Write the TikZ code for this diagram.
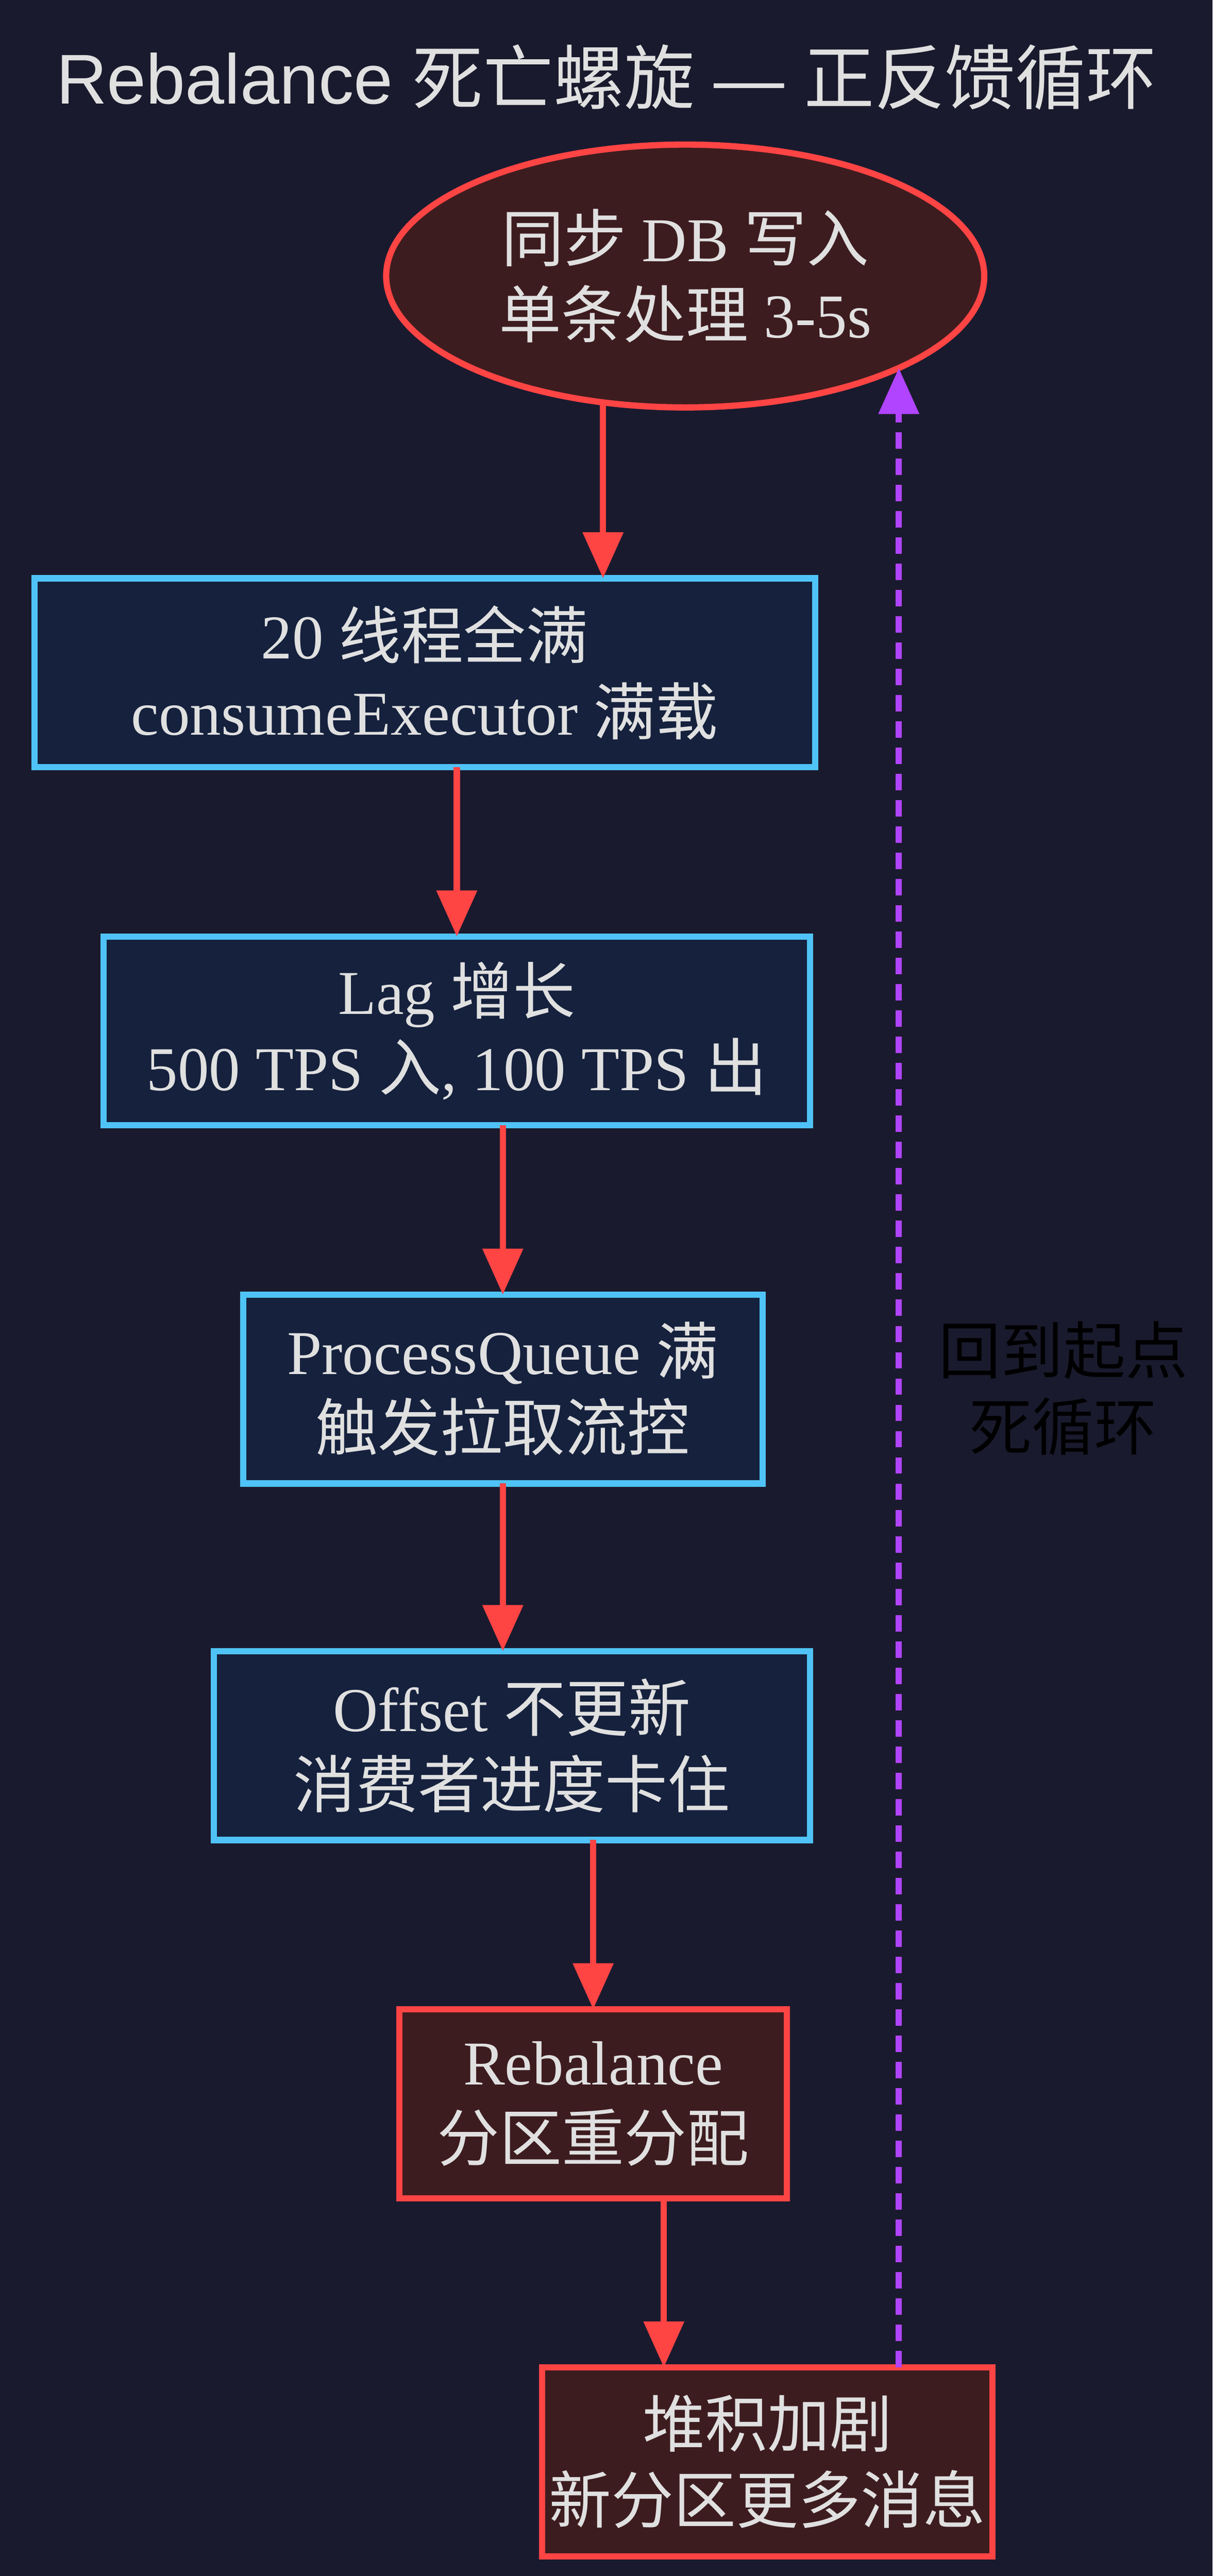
\documentclass[tikz,border=0pt]{standalone}
\usepackage{fontspec}
\setmainfont{Liberation Serif}
\setsansfont{Liberation Sans}
\newfontfamily\cjk{Noto Sans CJK SC}
\usetikzlibrary{shapes.geometric,arrows.meta}
\definecolor{bg}{HTML}{1A1A2E}
\definecolor{redS}{HTML}{FF4444}
\definecolor{redF}{HTML}{3D1C1F}
\definecolor{blueS}{HTML}{4FC3F7}
\definecolor{blueF}{HTML}{15213D}
\definecolor{purp}{HTML}{B044FF}
\definecolor{txt}{HTML}{E0E0E0}
\newcommand{\C}[1]{{\cjk #1}}
\begin{document}
\begin{tikzpicture}[x=0.1cm,y=-0.1cm,
  base/.style={draw,line width=0.38cm,outer sep=0pt,inner sep=0pt,align=center,text=txt,
    font=\fontsize{108}{132}\selectfont},
  bbox/.style={base,rectangle,draw=blueS,fill=blueF},
  rbox/.style={base,rectangle,draw=redS,fill=redF},
  arr/.style={draw=redS,line width=0.38cm,-{Triangle[length=2.8cm,width=2.4cm]}},
  back/.style={draw=purp,line width=0.38cm,dash pattern=on 1cm off 0.6cm,-{Triangle[length=2.8cm,width=2.4cm]}}]
\fill[bg] (0,0) rectangle (738,1568);
\useasboundingbox (0,0) rectangle (738,1568);
\node[text=txt,font=\sffamily\fontsize{122}{140}\selectfont] (title) at (369,47) {Rebalance \C{死亡螺旋} — \C{正反馈循环}};
\node[base,ellipse,draw=redS,fill=redF,minimum width=36.4cm,minimum height=16cm] (e) at (417,168)
  {\C{同步} DB \C{写入}\\\C{单条处理} 3-5s};
\node[bbox,minimum width=47.5cm,minimum height=11.5cm] (b1) at (258.5,409.5) {20 \C{线程全满}\\consumeExecutor \C{满载}};
\node[bbox,minimum width=43cm,minimum height=11.5cm] (b2) at (278,627.5) {Lag \C{增长}\\500 TPS \C{入}, 100 TPS \C{出}};
\node[bbox,minimum width=31.6cm,minimum height=11.5cm] (b3) at (306,845.5) {ProcessQueue \C{满}\\\C{触发拉取流控}};
\node[bbox,minimum width=36.3cm,minimum height=11.5cm] (b4) at (311.5,1062.5) {Offset \C{不更新}\\\C{消费者进度卡住}};
\node[rbox,minimum width=23.6cm,minimum height=11.5cm] (b5) at (361,1280.5) {Rebalance\\\C{分区重分配}};
\node[rbox,minimum width=27.4cm,minimum height=11.5cm] (b6) at (467,1498.5) {\C{堆积加剧}\\\C{新分区更多消息}};
\node[align=center,text=black,font=\cjk\fontsize{108}{132}\selectfont] (lbl) at (647,845) {回到起点\\死循环};
\coordinate (eR) at (547,224);
\coordinate (eB) at (367,245);
\draw[arr] (eB) -- (b1.north -| eB);
\draw[arr] (b1.south -| 278,0) -- (b2.north -| 278,0);
\draw[arr] (b2.south -| 306,0) -- (b3.north -| 306,0);
\draw[arr] (b3.south -| 306,0) -- (b4.north -| 306,0);
\draw[arr] (b4.south -| 361,0) -- (b5.north -| 361,0);
\draw[arr] (b5.south -| 404,0) -- (b6.north -| 404,0);
\draw[back] (b6.north -| eR) -- (eR);
\end{tikzpicture}
\end{document}
